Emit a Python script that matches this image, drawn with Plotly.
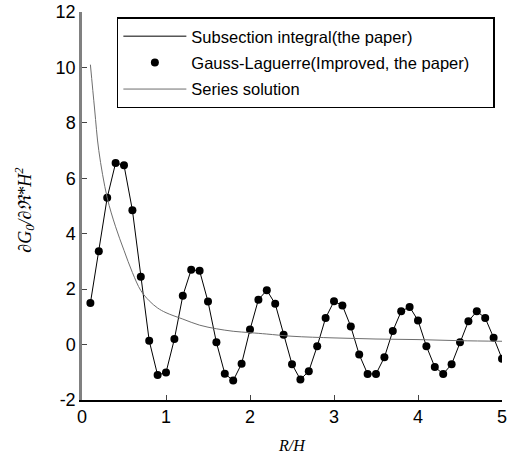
import plotly.graph_objects as go

x_vals = [round(0.1 * i, 1) for i in range(1, 51)]
g_vals = [1.5, 3.37, 5.3, 6.55, 6.47, 4.85, 2.45, 0.14, -1.1, -1.01,
          0.2, 1.76, 2.7, 2.66, 1.55, 0.08, -1.05, -1.3, -0.69, 0.54,
          1.62, 1.96, 1.47, 0.35, -0.71, -1.26, -0.96, -0.06, 0.96, 1.56,
          1.41, 0.65, -0.36, -1.06, -1.06, -0.46, 0.49, 1.2, 1.36, 0.87,
          -0.06, -0.81, -1.06, -0.71, 0.08, 0.84, 1.2, 0.96, 0.25, -0.51]

series_x = [0.1, 0.15, 0.2, 0.3, 0.4, 0.5, 0.6, 0.7, 0.8, 0.9, 1.0, 1.2, 1.4,
            1.6, 1.8, 2.0, 2.2, 2.5, 3.0, 3.5, 4.0, 4.5, 5.0]
series_y = [10.1, 8.5, 7.0, 5.3, 4.25, 3.4, 2.6, 1.95, 1.58, 1.32, 1.15, 0.92,
            0.7, 0.57, 0.48, 0.43, 0.38, 0.3, 0.24, 0.2, 0.18, 0.14, 0.12]

x_ticks = [0, 1, 2, 3, 4, 5]
x_ticktext = ["0", "1", "2", "3", "4", "5"]
y_ticks = [-2, 0, 2, 4, 6, 8, 10, 12]
y_ticktext = ["-2", "0", "2", "4", "6", "8", "10", "12"]

x_title = "<i>R/H</i>"
y_title = "<i>∂G<sub>0</sub>/∂ℜ*H<sup>2</sup></i>"

pad = "\u00a0" * 4

fig = go.Figure()
fig.add_trace(go.Scatter(x=x_vals, y=g_vals, mode="lines",
                         line=dict(color="black", width=1),
                         legendgroup="a",
                         name="Subsection integral(the paper)" + pad))
fig.add_trace(go.Scatter(x=x_vals, y=g_vals, mode="markers",
                         marker=dict(color="black", size=8),
                         legendgroup="b",
                         name="Gauss-Laguerre(Improved, the paper)" + pad))
fig.add_trace(go.Scatter(x=series_x, y=series_y, mode="lines",
                         line=dict(color="#6e6e6e", width=1, shape="spline"),
                         legendgroup="c",
                         name="Series solution" + pad))

fig.update_layout(
    width=514, height=454,
    margin=dict(l=82, r=12, t=12, b=54),
    plot_bgcolor="white", paper_bgcolor="white",
    font=dict(family="Arial, Liberation Sans", size=18, color="black"),
    showlegend=True,
    legend=dict(x=0.983, y=0.986, xanchor="right", yanchor="top",
                bordercolor="black", borderwidth=1.5, bgcolor="white",
                font=dict(size=16.5, family="Arial, Liberation Sans"),
                itemwidth=63, tracegroupgap=2),
    xaxis=dict(range=[0, 5], tickvals=x_ticks, ticktext=x_ticktext,
               ticks="inside", ticklen=5, automargin=False,
               showline=True, linecolor="black", linewidth=1.5,
               showgrid=False, zeroline=False),
    yaxis=dict(range=[-2, 12], tickvals=y_ticks, ticktext=y_ticktext,
               ticks="inside", ticklen=5, automargin=False,
               showline=True, linecolor="#808080", linewidth=2.5,
               showgrid=False, zeroline=False),
    annotations=[
        dict(text=x_title, xref="paper", yref="paper", x=0.5, y=-0.116,
             xanchor="center", yanchor="middle", showarrow=False,
             font=dict(family="Liberation Serif", size=16)),
        dict(text=y_title, xref="paper", yref="paper", x=-0.136, y=0.49,
             xanchor="center", yanchor="middle", showarrow=False, textangle=-90,
             font=dict(family="Liberation Serif", size=18)),
    ],
)

fig.write_html("out.html")
